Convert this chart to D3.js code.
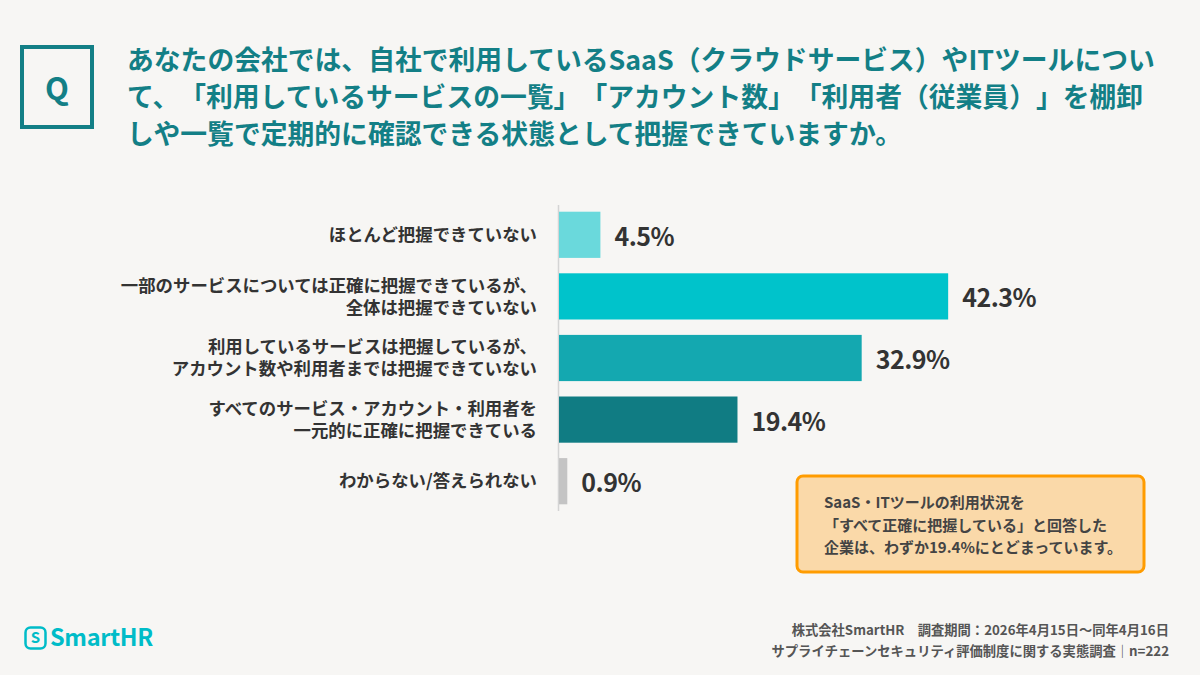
<!DOCTYPE html>
<html lang="ja">
<head>
<meta charset="utf-8">
<script src="https://cdn.jsdelivr.net/npm/d3@7"></script>
<style>
  html, body { margin: 0; padding: 0; background: #f7f6f4; }
  svg { display: block; font-family: "Noto Sans CJK JP", "Noto Sans", sans-serif; text-spacing-trim: space-all; }
</style>
</head>
<body>
<div id="chart"></div>
<script>
"use strict";
const W = 1200, H = 675;

// data
const categories = [
  ["ほとんど把握できていない"],
  ["一部のサービスについては正確に把握できているが、", "全体は把握できていない"],
  ["利用しているサービスは把握しているが、", "アカウント数や利用者までは把握できていない"],
  ["すべてのサービス・アカウント・利用者を", "一元的に正確に把握できている"],
  ["わからない/答えられない"]
];
const values = [4.5, 42.3, 32.9, 19.4, 0.9];
const titleLines = [
  "あなたの会社では、自社で利用しているSaaS（クラウドサービス）やITツールについ",
  "て、「利用しているサービスの一覧」「アカウント数」「利用者（従業員）」を棚卸",
  "しや一覧で定期的に確認できる状態として把握できていますか。"
];
const noteLines = [
  "SaaS・ITツールの利用状況を",
  "「すべて正確に把握している」と回答した",
  "企業は、わずか19.4%にとどまっています。"
];
const footLines = [
  "株式会社SmartHR　調査期間：2026年4月15日〜同年4月16日",
  "サプライチェーンセキュリティ評価制度に関する実態調査｜n=222"
];

const teal = "#137f86";
const palette = ["#6ad9dc", "#00c3cb", "#14a8b0", "#107c83", "#c4c4c4"];

const svg = d3.select("#chart").append("svg")
  .attr("width", W).attr("height", H);

svg.append("rect").attr("width", W).attr("height", H).attr("fill", "#f7f6f4");

// question box
svg.append("rect")
  .attr("x", 22).attr("y", 47).attr("width", 70).attr("height", 80)
  .attr("fill", "none").attr("stroke", teal).attr("stroke-width", 4);
svg.append("text")
  .attr("x", 57).attr("y", 89).attr("dy", "0.36em")
  .attr("text-anchor", "middle")
  .attr("font-size", 31).attr("font-weight", 700).attr("fill", teal)
  .text("Q");

// title
svg.append("g").selectAll("text")
  .data(titleLines)
  .join("text")
  .attr("x", 127)
  .attr("y", (d, i) => 70 + i * 37)
  .attr("font-size", 26.8).attr("font-weight", 700).attr("fill", teal)
  .text(d => d);

// scales
const x = d3.scaleLinear().domain([0, 100]).range([559, 559 + 920]);
const y = d3.scaleBand()
  .domain(d3.range(values.length))
  .range([204, 512])
  .paddingInner(0.25).paddingOuter(0.125);
const color = d3.scaleOrdinal().domain(d3.range(values.length)).range(palette);

// axis line
svg.append("line")
  .attr("x1", 558.5).attr("x2", 558.5)
  .attr("y1", 205).attr("y2", 511)
  .attr("stroke", "#d4d4d4").attr("stroke-width", 1.5);

// bars
svg.append("g").selectAll("rect")
  .data(values)
  .join("rect")
  .attr("x", x(0))
  .attr("y", (d, i) => y(i))
  .attr("width", d => x(d) - x(0))
  .attr("height", y.bandwidth())
  .attr("fill", (d, i) => color(i));

// value labels
svg.append("g").selectAll("text")
  .data(values)
  .join("text")
  .attr("x", d => x(d) + 14)
  .attr("y", (d, i) => y(i) + y.bandwidth() / 2 + 2)
  .attr("dy", "0.36em")
  .attr("font-size", 25).attr("font-weight", 700).attr("fill", "#333")
  .attr("letter-spacing", -0.5)
  .text(d => d.toFixed(1) + "%");

// category labels
const cat = svg.append("g").selectAll("text")
  .data(categories)
  .join("text")
  .attr("text-anchor", "end")
  .attr("font-size", 17.4).attr("font-weight", 700).attr("fill", "#333");
cat.selectAll("tspan")
  .data((d, i) => d.map((s, j) => ({s, j, n: d.length, i})))
  .join("tspan")
  .attr("x", 537)
  .attr("y", d => y(d.i) + y.bandwidth() / 2 + (d.j - (d.n - 1) / 2) * 22)
  .attr("dy", "0.36em")
  .text(d => d.s);

// note box
svg.append("rect")
  .attr("x", 797).attr("y", 476).attr("width", 347).attr("height", 96)
  .attr("rx", 6)
  .attr("fill", "#fad9a9").attr("stroke", "#ff9c00").attr("stroke-width", 3);
svg.append("g").selectAll("text")
  .data(noteLines)
  .join("text")
  .attr("x", 824)
  .attr("y", (d, i) => 503 + i * 22.5)
  .attr("dy", "0.36em")
  .attr("font-size", 15).attr("font-weight", 700).attr("fill", "#444")
  .text(d => d);

// footer
svg.append("g").selectAll("text")
  .data(footLines)
  .join("text")
  .attr("x", 1169)
  .attr("y", (d, i) => 630 + i * 21)
  .attr("dy", "0.36em")
  .attr("text-anchor", "end")
  .attr("font-size", 13.3).attr("font-weight", 700).attr("fill", "#555")
  .text(d => d);

// logo
const logo = svg.append("g").attr("fill", "#00bcc8");
logo.append("rect")
  .attr("x", 25.5).attr("y", 627.5).attr("width", 20).attr("height", 21)
  .attr("rx", 5).attr("fill", "none")
  .attr("stroke", "#00bcc8").attr("stroke-width", 2.5);
logo.append("text")
  .attr("x", 35.5).attr("y", 638).attr("dy", "0.36em")
  .attr("text-anchor", "middle")
  .attr("font-size", 15).attr("font-weight", 700)
  .text("S");
logo.append("text")
  .attr("x", 50).attr("y", 638).attr("dy", "0.36em")
  .attr("font-size", 23.5).attr("font-weight", 700)
  .attr("letter-spacing", -0.3)
  .text("SmartHR");
</script>
</body>
</html>
